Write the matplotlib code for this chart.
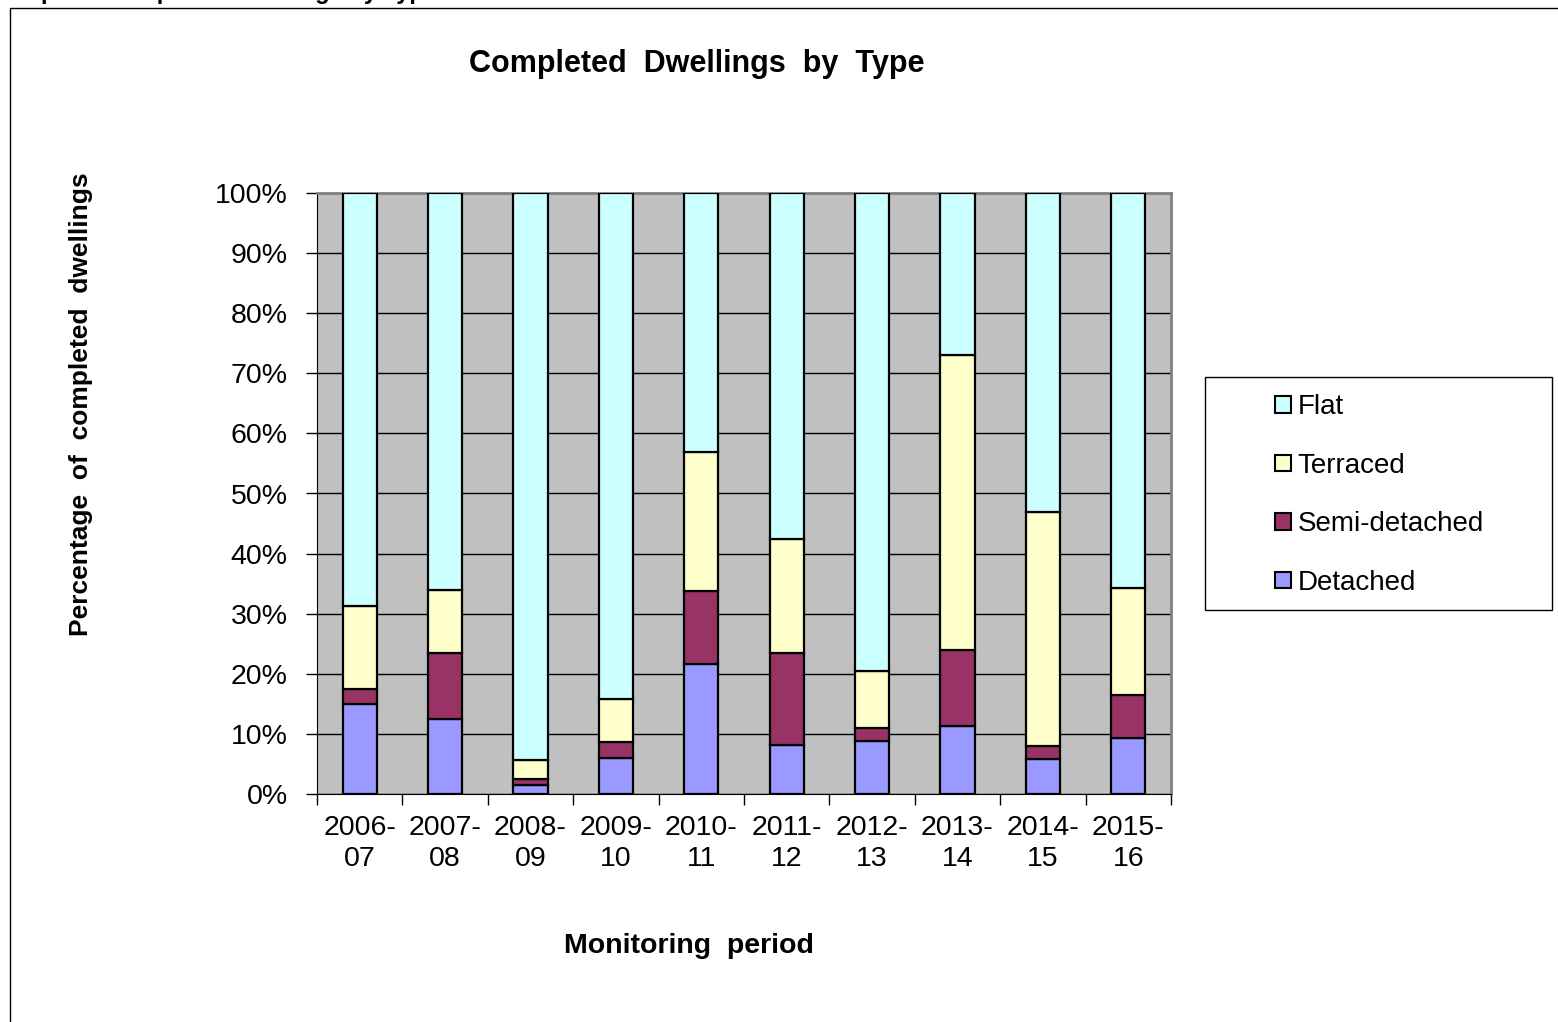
import matplotlib
matplotlib.use("Agg")
import matplotlib.pyplot as plt
from matplotlib.patches import Rectangle, Patch
import numpy as np

plt.rcParams['font.family'] = ['Liberation Sans', 'DejaVu Sans']

periods = ["2006-\n07", "2007-\n08", "2008-\n09", "2009-\n10", "2010-\n11",
           "2011-\n12", "2012-\n13", "2013-\n14", "2014-\n15", "2015-\n16"]
# cumulative boundaries (%)
detached_top = [14.9, 12.5, 1.45, 6.0, 21.6, 8.2, 8.8, 11.3, 5.9, 9.4]
semi_top     = [17.5, 23.5, 2.5, 8.6, 33.8, 23.5, 10.9, 24.0, 8.0, 16.4]
terraced_top = [31.2, 33.9, 5.66, 15.8, 56.9, 42.4, 20.5, 73.0, 46.9, 34.3]

detached = np.array(detached_top)
semi = np.array(semi_top) - np.array(detached_top)
terraced = np.array(terraced_top) - np.array(semi_top)
flat = 100 - np.array(terraced_top)

series_names = ["Detached", "Semi-detached", "Terraced", "Flat"]
series_colors = ["#9999FF", "#993366", "#FFFFCC", "#CCFFFF"]

W, H = 1558, 1022
fig = plt.figure(figsize=(W / 100, H / 100), dpi=100)

# outer frame
fig.patches.append(Rectangle((10 / W, -0.05), 1.1, 1 - 8 / H + 0.05,
                             transform=fig.transFigure, fill=False,
                             edgecolor='black', linewidth=1.0))
# cut-off caption at top (only its descenders show, as in the source)
fig.text(0.0, 1 + 1 / H, "Graph 3: Completed Dwellings by Type", fontsize=17,
         fontweight='bold', va='baseline', ha='left')

ax = fig.add_axes([317 / W, 1 - 794 / H, (1171 - 317) / W, (794 - 193) / H])
ax.set_facecolor('#C0C0C0')

x = np.arange(len(periods))
bottom = np.zeros(len(periods))
for vals, name, col in zip([detached, semi, terraced, flat], series_names, series_colors):
    ax.bar(x, vals, width=0.4, bottom=bottom, color=col, edgecolor='black',
           linewidth=1.6, label=name, zorder=3)
    bottom += vals

ax.set_xlim(-0.5, len(periods) - 0.5)
ax.set_ylim(0, 100)
ax.set_yticks(np.arange(0, 101, 10))
ax.set_yticklabels([f"{v}%" for v in range(0, 101, 10)], fontsize=20.5)
ax.yaxis.grid(True, color='black', linewidth=1.0, zorder=1)
ax.set_axisbelow(True)
ax.tick_params(axis='y', direction='out', length=8, width=1, pad=13)

ax.set_xticks(np.arange(-0.5, len(periods), 1.0))
ax.set_xticklabels([])
ax.set_xticks(x, minor=True)
ax.set_xticklabels(periods, minor=True, fontsize=20.5, linespacing=1.28)
ax.tick_params(axis='x', which='major', direction='out', length=8, width=1)
ax.tick_params(axis='x', which='minor', length=0, pad=15)

for s in ['top', 'right']:
    ax.spines[s].set_color('#808080')
    ax.spines[s].set_linewidth(2.0)
ax.spines['left'].set_color('black')
ax.spines['bottom'].set_color('black')

fig.text(697 / W, 1 - 64 / H, "Completed  Dwellings  by  Type", fontsize=22,
         fontweight='bold', ha='center', va='center')
fig.text(689 / W, 1 - 946 / H, "Monitoring  period", fontsize=20.5,
         fontweight='bold', ha='center', va='center')
fig.text(81 / W, 1 - 404 / H, "Percentage  of  completed  dwellings", fontsize=19,
         fontweight='bold', ha='center', va='center', rotation=90)

# legend box
fig.patches.append(Rectangle((1205 / W, 1 - 610 / H), (1552 - 1205) / W, (610 - 377) / H,
                             transform=fig.transFigure, fill=False,
                             edgecolor='black', linewidth=1.0))
handles = [Patch(facecolor=c, edgecolor='black', linewidth=1.5)
           for c in series_colors[::-1]]
fig.legend(handles, series_names[::-1], loc='upper left',
           bbox_to_anchor=(1253 / W, 1 - 372 / H), frameon=False, fontsize=20,
           handlelength=0.55, handleheight=0.55, handletextpad=0.25,
           labelspacing=1.17, borderpad=0.3)

fig.savefig("out.png", dpi=100)
